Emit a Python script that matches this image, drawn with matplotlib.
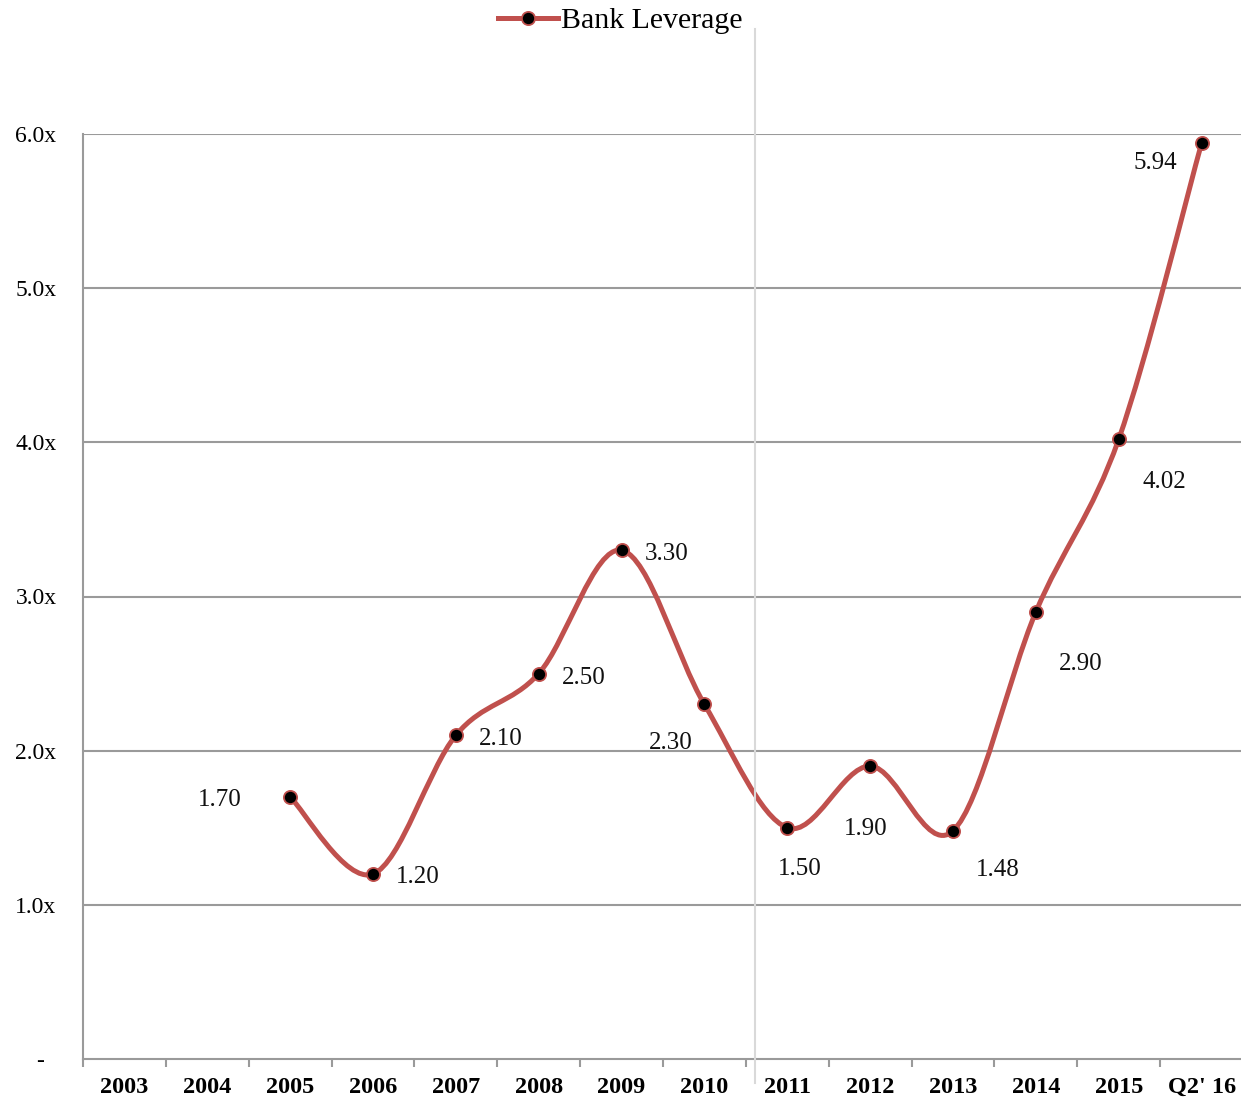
import numpy as np
import matplotlib.pyplot as plt
from matplotlib.path import Path
from matplotlib.patches import PathPatch
from matplotlib.lines import Line2D

plt.rcParams['font.family'] = ['Liberation Serif', 'DejaVu Serif']

categories = ['2003', '2004', '2005', '2006', '2007', '2008', '2009',
              '2010', '2011', '2012', '2013', '2014', '2015', "Q2' 16"]
# leverage starts in 2005
lev_idx = [2, 3, 4, 5, 6, 7, 8, 9, 10, 11, 12, 13]
leverage = [1.70, 1.20, 2.10, 2.50, 3.30, 2.30, 1.50, 1.90, 1.48, 2.90, 4.02, 5.94]
yticks = [0, 1, 2, 3, 4, 5, 6]
ytick_labels = ['-  ', '1.0x', '2.0x', '3.0x', '4.0x', '5.0x', '6.0x']

# label offsets in pixels (dx, dy) relative to each point
label_offsets = [(-70, -3), (45, -3), (45, -4), (45, -4), (45, -4), (-34, -39),
                 (12, -41), (-4, -63), (45, -39), (45, -52), (46, -43), (-46, -20)]

RED = '#C0504D'
GRID = '#9a9a9a'


def smooth_path(xs, ys):
    """Excel-style smoothed line: cubic Bezier segments with
    Catmull-Rom control points."""
    pts = np.column_stack([xs, ys]).astype(float)
    n = len(pts)
    verts = [pts[0]]
    codes = [Path.MOVETO]
    for i in range(n - 1):
        p0 = pts[i - 1] if i > 0 else pts[i]
        p1 = pts[i]
        p2 = pts[i + 1]
        p3 = pts[i + 2] if i + 2 < n else pts[i + 1]
        c1 = p1 + (p2 - p0) / 6.0
        c2 = p2 - (p3 - p1) / 6.0
        verts += [c1, c2, p2]
        codes += [Path.CURVE4] * 3
    return Path(verts, codes)


fig = plt.figure(figsize=(12.41, 11), dpi=100)
ax = fig.add_axes([83 / 1241, 1 - 1059 / 1100, 1160 / 1241, 925 / 1100])

ax.set_xlim(-0.5, len(categories) - 0.5)
ax.set_ylim(0, 6)

for y in yticks[1:]:
    ax.axhline(y, color=GRID, lw=1.5, zorder=1)

ax.add_patch(PathPatch(smooth_path(lev_idx, leverage), fill=False,
                       edgecolor=RED, lw=3.6, capstyle='round', zorder=3))
ax.plot(lev_idx, leverage, ls='none', marker='o', ms=9.5,
        mfc='black', mec=RED, mew=1.3, zorder=4)

for x, v, (dx, dy) in zip(lev_idx, leverage, label_offsets):
    ax.annotate(f'{v:.2f}', (x, v), xytext=(dx * 0.72, dy * 0.72),
                textcoords='offset points', ha='center', va='center',
                fontsize=18, color='#111111')

for s in ['top', 'right']:
    ax.spines[s].set_visible(False)
for s in ['left', 'bottom']:
    ax.spines[s].set_color(GRID)
    ax.spines[s].set_linewidth(1.5)

ax.set_yticks(yticks)
ax.set_yticklabels(ytick_labels, fontsize=17)
ax.tick_params(axis='y', length=0, pad=19)

ax.set_xticks(range(len(categories)))
ax.set_xticklabels(categories, fontsize=17.5, fontweight='bold')
ax.set_xticks(np.arange(-0.5, len(categories), 1.0), minor=True)
ax.tick_params(axis='x', which='major', length=0, pad=13)
ax.tick_params(axis='x', which='minor', length=5.5, width=1.5,
               color=GRID, direction='out')

# divider line running through the chart
fig.add_artist(Line2D([755 / 1241, 755 / 1241], [1 - 1083 / 1100, 1 - 29 / 1100],
                      transform=fig.transFigure, color='#d9d9d9', lw=1.5))

# legend at the top
handle = Line2D([], [], color=RED, lw=3.6, marker='o', ms=9.5,
                mfc='black', mec=RED, mew=1.3)
fig.legend([handle], ['Bank Leverage'], loc='center',
           bbox_to_anchor=(620 / 1241, 1 - 21 / 1100), frameon=False,
           fontsize=21.5, handlelength=2.0, handletextpad=0.1)

fig.savefig('out.png', dpi=100)
